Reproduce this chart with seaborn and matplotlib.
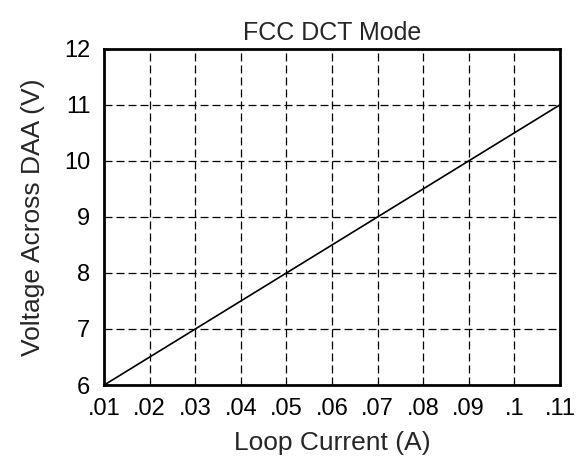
import matplotlib
matplotlib.use("Agg")
import matplotlib.pyplot as plt
import seaborn as sns

loop_current = [0.01, 0.03, 0.05, 0.07, 0.09, 0.11]
voltage = [6, 7, 8, 9, 10, 11]
x_ticks = [0.01, 0.02, 0.03, 0.04, 0.05, 0.06, 0.07, 0.08, 0.09, 0.10, 0.11]
x_labels = [".01", ".02", ".03", ".04", ".05", ".06", ".07", ".08", ".09", ".1", ".11"]
y_ticks = [6, 7, 8, 9, 10, 11, 12]

sns.set_style("white")
plt.rcParams["font.family"] = ["Liberation Sans", "DejaVu Sans"]

fig = plt.figure(figsize=(5.82, 4.65), dpi=100)
ax = fig.add_axes([0.179, 0.172, 0.783, 0.723])
sns.lineplot(x=loop_current, y=voltage, ax=ax, color="black", linewidth=1.2)

ax.set_xlim(0.01, 0.11)
ax.set_ylim(6, 12)
ax.set_xticks(x_ticks)
ax.set_xticklabels(x_labels)
ax.set_yticks(y_ticks)
ax.tick_params(axis="both", length=0, labelsize=17, colors="black")
ax.tick_params(axis="x", pad=9)
ax.tick_params(axis="y", pad=10)
# dashed black grid like the original
ax.grid(True, color="black", linestyle=(0, (6.4, 3.2)), linewidth=0.9)
for s in ax.spines.values():
    s.set_color("black")
    s.set_linewidth(2)
    s.set_zorder(5)

ax.set_title("FCC DCT Mode", fontsize=18, pad=6)
ax.set_xlabel("Loop Current (A)", fontsize=19, labelpad=8)
ax.set_ylabel("Voltage Across DAA (V)", fontsize=19, labelpad=14)

fig.savefig("out.png", dpi=100)
